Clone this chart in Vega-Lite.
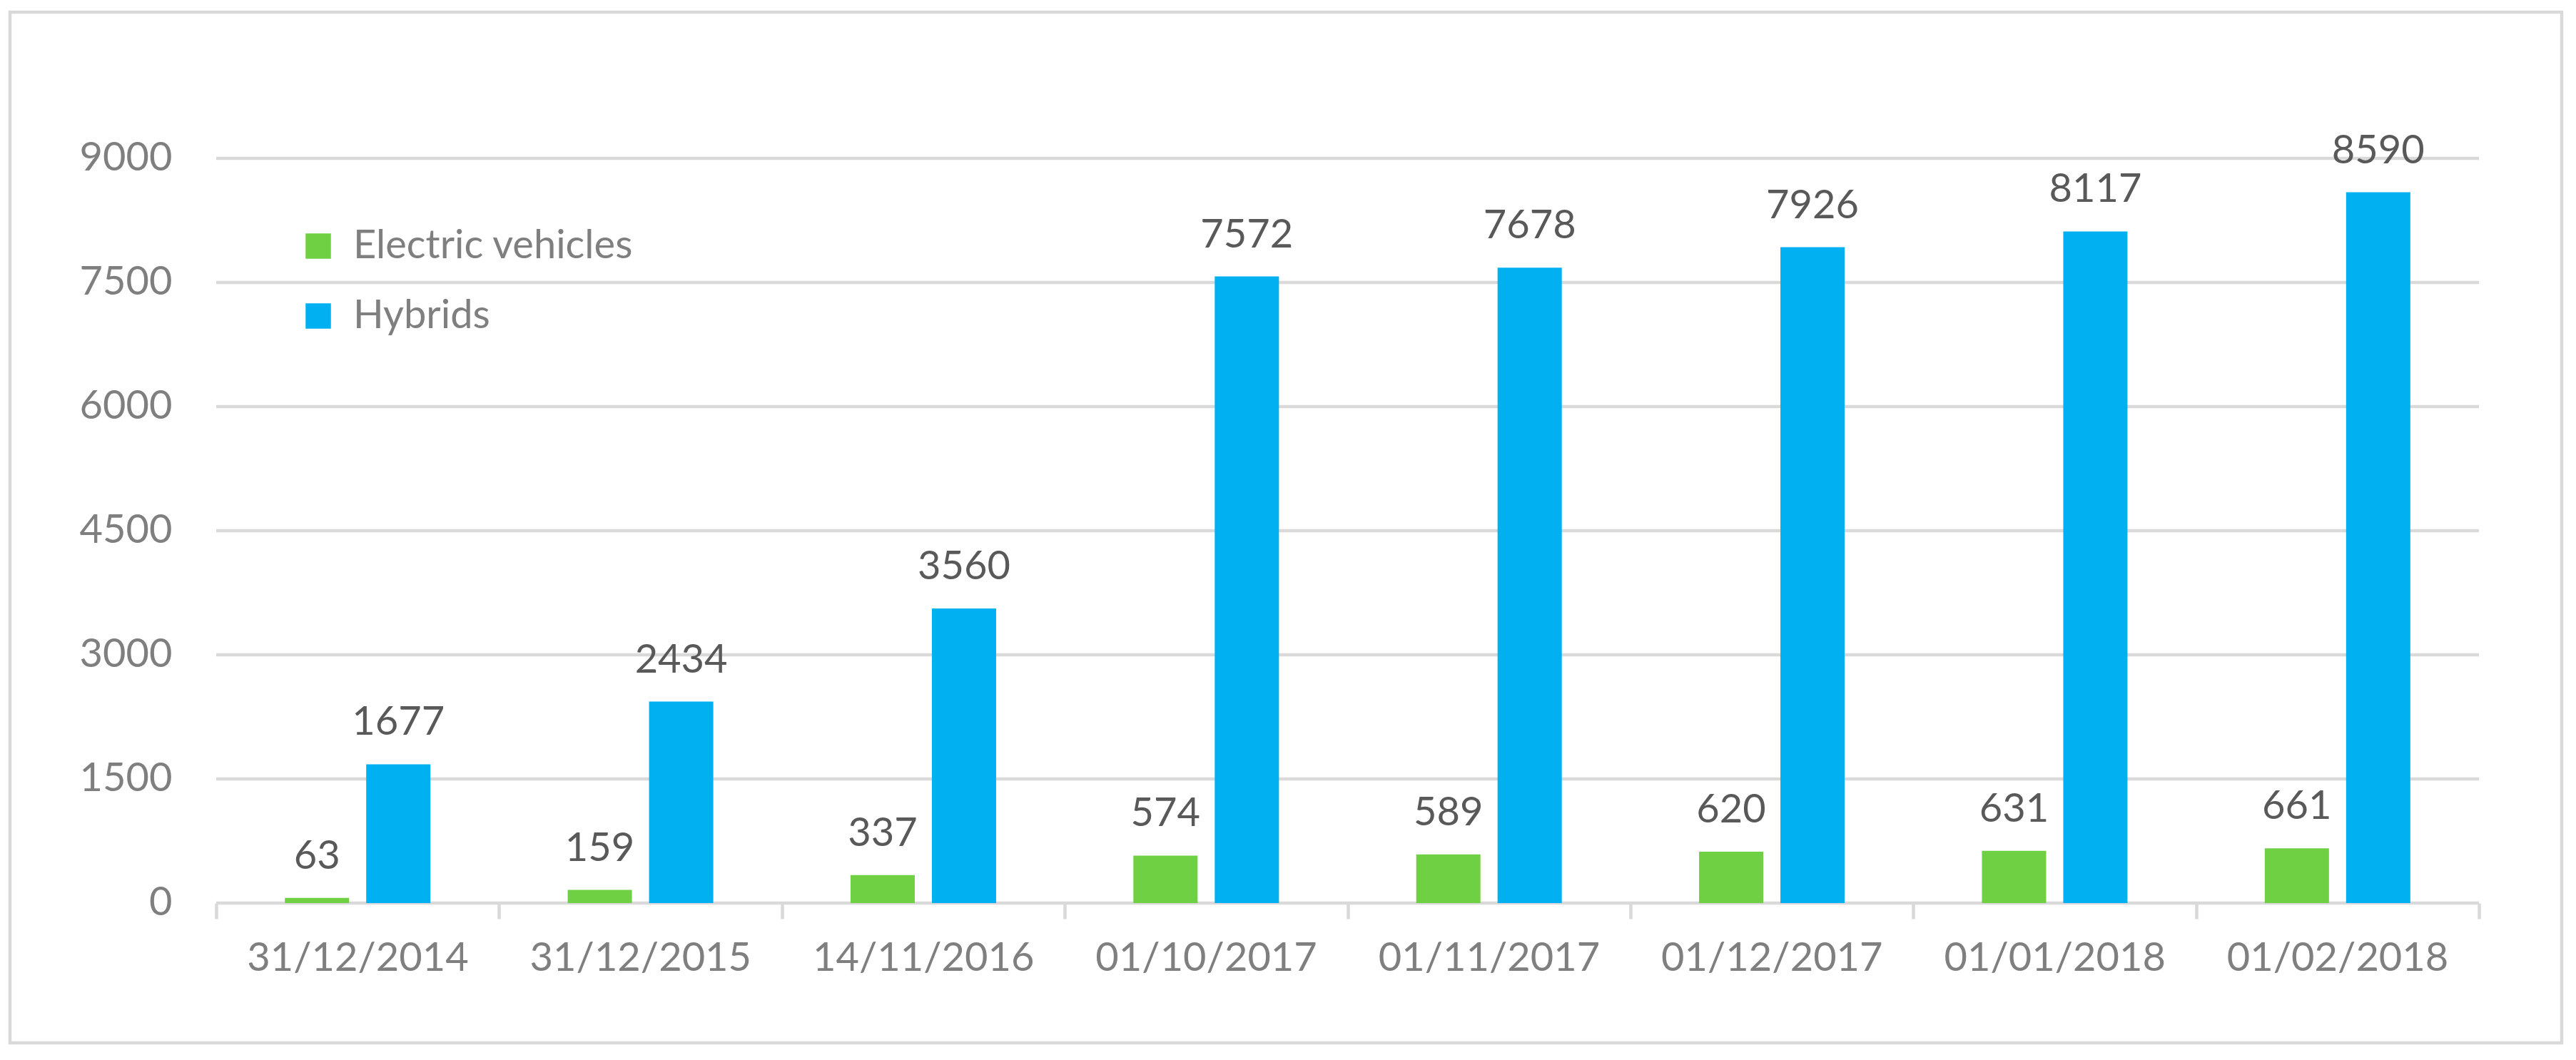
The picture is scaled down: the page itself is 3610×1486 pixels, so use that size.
{
  "$schema": "https://vega.github.io/schema/vega-lite/v6.json",
  "width": 3576,
  "height": 1445,
  "autosize": {"type": "none"},
  "padding": {"left": 14, "top": 17, "right": 20, "bottom": 24},
  "background": "white",
  "config": {
    "view": {"stroke": "#d9d9d9", "strokeWidth": 4.5},
    "font": "Lato"
  },
  "datasets": {
    "bars": [
      {"date": "31/12/2014", "series": "Electric vehicles", "value": 63},
      {"date": "31/12/2014", "series": "Hybrids", "value": 1677},
      {"date": "31/12/2015", "series": "Electric vehicles", "value": 159},
      {"date": "31/12/2015", "series": "Hybrids", "value": 2434},
      {"date": "14/11/2016", "series": "Electric vehicles", "value": 337},
      {"date": "14/11/2016", "series": "Hybrids", "value": 3560},
      {"date": "01/10/2017", "series": "Electric vehicles", "value": 574},
      {"date": "01/10/2017", "series": "Hybrids", "value": 7572},
      {"date": "01/11/2017", "series": "Electric vehicles", "value": 589},
      {"date": "01/11/2017", "series": "Hybrids", "value": 7678},
      {"date": "01/12/2017", "series": "Electric vehicles", "value": 620},
      {"date": "01/12/2017", "series": "Hybrids", "value": 7926},
      {"date": "01/01/2018", "series": "Electric vehicles", "value": 631},
      {"date": "01/01/2018", "series": "Hybrids", "value": 8117},
      {"date": "01/02/2018", "series": "Electric vehicles", "value": 661},
      {"date": "01/02/2018", "series": "Hybrids", "value": 8590}
    ],
    "grid": [
      {"v": 0}, {"v": 1500}, {"v": 3000}, {"v": 4500}, {"v": 6000}, {"v": 7500}, {"v": 9000}
    ]
  },
  "layer": [
    {
      "data": {"name": "grid"},
      "mark": {"type": "rule", "color": "#d9d9d9", "strokeWidth": 4.5},
      "encoding": {
        "y": {
          "field": "v",
          "type": "quantitative",
          "scale": {"domain": [-1690, 10767], "nice": false, "zero": false},
          "axis": {
            "title": null,
            "values": [0, 1500, 3000, 4500, 6000, 7500, 9000],
            "format": "d",
            "grid": false,
            "domain": false,
            "ticks": false,
            "offset": -289,
            "labelPadding": 62,
            "labelFont": "Lato",
            "labelFontSize": 56,
            "labelColor": "#7f7f7f",
            "labelLimit": 0
          }
        },
        "x": {"datum": "31/12/2014", "type": "nominal", "bandPosition": 0},
        "x2": {"datum": "01/02/2018", "bandPosition": 1}
      }
    },
    {
      "data": {"name": "bars"},
      "mark": {"type": "bar"},
      "encoding": {
        "x": {
          "field": "date",
          "type": "nominal",
          "sort": null,
          "scale": {
            "domain": ["31/12/2014", "31/12/2015", "14/11/2016", "01/10/2017", "01/11/2017", "01/12/2017", "01/01/2018", "01/02/2018"],
            "paddingInner": 0,
            "paddingOuter": 0.5109,
            "align": 0.7136
          },
          "axis": {
            "title": null,
            "domain": false,
            "grid": false,
            "ticks": true,
            "tickBand": "extent",
            "tickSize": 22,
            "tickColor": "#d9d9d9",
            "tickWidth": 4.5,
            "offset": -196,
            "labelPadding": 72,
            "labelOffset": 155,
            "labelBaseline": "alphabetic",
            "labelAngle": 0,
            "labelFont": "Lato",
            "labelFontSize": 56,
            "labelColor": "#7f7f7f",
            "labelLimit": 0
          }
        },
        "xOffset": {
          "field": "series",
          "type": "nominal",
          "scale": {"domain": ["Electric vehicles", "Hybrids"], "paddingInner": 0.2105, "paddingOuter": 0.8437}
        },
        "y": {"field": "value", "type": "quantitative"},
        "color": {
          "field": "series",
          "type": "nominal",
          "scale": {"domain": ["Electric vehicles", "Hybrids"], "range": ["#70d044", "#00b0f0"]},
          "legend": {
            "title": null,
            "orient": "none",
            "legendX": 404,
            "legendY": 300,
            "padding": 0,
            "symbolType": "square",
            "symbolSize": 1260,
            "symbolStrokeWidth": 0,
            "symbolOpacity": 1,
            "labelFont": "Lato",
            "labelFontSize": 56,
            "labelColor": "#7f7f7f",
            "labelOffset": 21,
            "labelLimit": 0,
            "rowPadding": 42
          }
        }
      }
    },
    {
      "data": {"name": "bars"},
      "mark": {"type": "text", "dy": -41, "baseline": "alphabetic", "fontSize": 56, "font": "Lato", "color": "#595959"},
      "encoding": {
        "x": {"field": "date", "type": "nominal", "sort": null},
        "xOffset": {"field": "series", "type": "nominal"},
        "y": {"field": "value", "type": "quantitative"},
        "text": {"field": "value", "type": "quantitative"}
      }
    }
  ]
}
